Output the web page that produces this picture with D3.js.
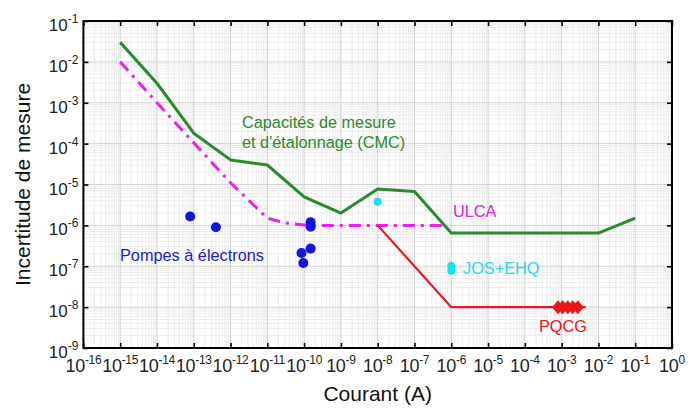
<!DOCTYPE html>
<html>
<head>
<meta charset="utf-8">
<script src="https://cdn.jsdelivr.net/npm/d3@7"></script>
<style>
  body { margin: 0; background: #fff; }
  svg { display: block; font-family: "Liberation Sans", Arial, sans-serif; }
</style>
</head>
<body>
<div id="chart"></div>
<script>
// CMC (capacités de mesure et d'étalonnage)
const cmcCurrent = [1e-15, 1e-14, 1e-13, 1e-12, 1e-11, 1e-10, 1e-9, 1e-8, 1e-7, 1e-6, 1e-2, 1e-1];
const cmcUncert = [3e-2, 3e-3, 1.8e-4, 4e-5, 3e-5, 5e-6, 2e-6, 7.8e-6, 6.7e-6, 6.5e-7, 6.5e-7, 1.5e-6];

// ULCA
const ulcaCurrent = [1e-15, 1e-14, 1e-12, 1e-11, 3e-11, 1.2e-10, 6e-7];
const ulcaUncert = [1e-2, 1e-3, 1.1e-5, 1.5e-6, 1.15e-6, 1e-6, 1e-6];

// PQCG
const pqcgCurrent = [1e-8, 1e-6, 4.5e-3];
const pqcgUncert = [1e-6, 1e-8, 1e-8];
const pqcgMarkCurrent = [8e-4, 1.07e-3, 1.47e-3, 2e-3, 2.75e-3];
const pqcgMarkUncert = [1e-8, 1e-8, 1e-8, 1e-8, 1e-8];

// pompes à électrons
const pompesCurrent = [8e-14, 4e-13, 1.5e-10, 1.5e-10, 1.5e-10, 8.5e-11, 9.5e-11];
const pompesUncert = [1.65e-6, 9e-7, 1.2e-6, 9.3e-7, 2.7e-7, 2.1e-7, 1.2e-7];

// JOS+EHQ
const josCurrent = [1e-8, 1e-6, 1e-6];
const josUncert = [3.8e-6, 1.02e-7, 7.8e-8];

const xExp = d3.range(-16, 1);   // 10^-16 .. 10^0
const yExp = d3.range(-9, 0);    // 10^-9 .. 10^-1

const width = 699, height = 408;
const margin = { top: 21, right: 27, bottom: 60, left: 83.4 };

const svg = d3.select("#chart").append("svg")
  .attr("width", width)
  .attr("height", height);

const x = d3.scaleLog().domain([1e-16, 1]).range([margin.left, width - margin.right]);
const y = d3.scaleLog().domain([1e-9, 1e-1]).range([height - margin.bottom, margin.top]);

const [x0, x1] = x.range();
const [y0, y1] = y.range();

// grid, minor first then major
const minorX = [], minorY = [];
xExp.slice(0, -1).forEach((e) => d3.range(2, 10).forEach((k) => minorX.push(k * Math.pow(10, e))));
yExp.slice(0, -1).forEach((e) => d3.range(2, 10).forEach((k) => minorY.push(k * Math.pow(10, e))));

const grid = svg.append("g");
grid.selectAll(".mx").data(minorX).enter().append("line")
  .attr("x1", (d) => x(d)).attr("x2", (d) => x(d))
  .attr("y1", y1).attr("y2", y0)
  .attr("stroke", "#ececec").attr("stroke-width", 1);
grid.selectAll(".my").data(minorY).enter().append("line")
  .attr("y1", (d) => y(d)).attr("y2", (d) => y(d))
  .attr("x1", x0).attr("x2", x1)
  .attr("stroke", "#ececec").attr("stroke-width", 1);
grid.selectAll(".Mx").data(xExp).enter().append("line")
  .attr("x1", (d) => x(Math.pow(10, d))).attr("x2", (d) => x(Math.pow(10, d)))
  .attr("y1", y1).attr("y2", y0)
  .attr("stroke", "#d2d2d2").attr("stroke-width", 1);
grid.selectAll(".My").data(yExp).enter().append("line")
  .attr("y1", (d) => y(Math.pow(10, d))).attr("y2", (d) => y(Math.pow(10, d)))
  .attr("x1", x0).attr("x2", x1)
  .attr("stroke", "#d2d2d2").attr("stroke-width", 1);

// axes with inward ticks
const xTicks = xExp.map((e) => Math.pow(10, e));
const yTicks = yExp.map((e) => Math.pow(10, e));

const styleAxis = (g) => {
  g.select(".domain").remove();
  g.selectAll(".tick line").attr("stroke", "#000").attr("stroke-width", 1.6);
};

svg.append("g").attr("transform", `translate(0,${y0})`)
  .call(d3.axisBottom(x).tickValues(xTicks).tickSize(-5).tickFormat(() => ""))
  .call(styleAxis);
svg.append("g").attr("transform", `translate(0,${y1})`)
  .call(d3.axisTop(x).tickValues(xTicks).tickSize(-5).tickFormat(() => ""))
  .call(styleAxis);
svg.append("g").attr("transform", `translate(${x0},0)`)
  .call(d3.axisLeft(y).tickValues(yTicks).tickSize(-5).tickFormat(() => ""))
  .call(styleAxis);
svg.append("g").attr("transform", `translate(${x1},0)`)
  .call(d3.axisRight(y).tickValues(yTicks).tickSize(-5).tickFormat(() => ""))
  .call(styleAxis);

svg.append("rect")
  .attr("x", x0).attr("y", y1)
  .attr("width", x1 - x0).attr("height", y0 - y1)
  .attr("fill", "none").attr("stroke", "#000").attr("stroke-width", 2);

// tick labels 10^n
const powLabel = (sel) => {
  sel.append("tspan").text("10");
  sel.append("tspan").attr("dy", -8).attr("font-size", 12).text((d) => d);
};

svg.append("g").selectAll("text").data(xExp).enter().append("text")
  .attr("x", (d) => x(Math.pow(10, d)))
  .attr("y", y0 + 24)
  .attr("text-anchor", "middle")
  .attr("font-size", 18)
  .attr("letter-spacing", -0.3)
  .attr("fill", "#222")
  .call(powLabel);

svg.append("g").selectAll("text").data(yExp).enter().append("text")
  .attr("x", x0 - 5)
  .attr("y", (d) => y(Math.pow(10, d)) + 10)
  .attr("text-anchor", "end")
  .attr("font-size", 17)
  .attr("fill", "#222")
  .call(powLabel);

// axis titles
svg.append("text")
  .attr("x", (x0 + x1) / 2).attr("y", 401)
  .attr("text-anchor", "middle")
  .attr("font-size", 21)
  .attr("fill", "#111")
  .text("Courant (A)");

svg.append("text")
  .attr("transform", `translate(30,${(y0 + y1) / 2}) rotate(-90)`)
  .attr("text-anchor", "middle")
  .attr("font-size", 21)
  .attr("fill", "#111")
  .text("Incertitude de mesure");

// series
const line = d3.line().x((d) => x(d[0])).y((d) => y(d[1]));
const plot = svg.append("g");

plot.append("path")
  .attr("d", line(d3.zip(cmcCurrent, cmcUncert)))
  .attr("fill", "none").attr("stroke", "#2b8a2b").attr("stroke-width", 3)
  .attr("stroke-linejoin", "round");

plot.append("path")
  .attr("d", line(d3.zip(ulcaCurrent, ulcaUncert)))
  .attr("fill", "none").attr("stroke", "#ee1fee").attr("stroke-width", 3)
  .attr("stroke-dasharray", "12,6,3,6");

plot.append("path")
  .attr("d", line(d3.zip(pqcgCurrent, pqcgUncert)))
  .attr("fill", "none").attr("stroke", "#e8181c").attr("stroke-width", 2.2);

plot.selectAll(".pq").data(d3.zip(pqcgMarkCurrent, pqcgMarkUncert)).enter().append("path")
  .attr("transform", (d) => `translate(${x(d[0])},${y(d[1])})`)
  .attr("d", "M0,-7L6,0L0,7L-6,0Z")
  .attr("fill", "#e8181c");

plot.selectAll(".pompe").data(d3.zip(pompesCurrent, pompesUncert)).enter().append("circle")
  .attr("cx", (d) => x(d[0])).attr("cy", (d) => y(d[1]))
  .attr("r", 5).attr("fill", "#1414e0");

plot.selectAll(".jos").data(d3.zip(josCurrent, josUncert)).enter().append("circle")
  .attr("cx", (d) => x(d[0])).attr("cy", (d) => y(d[1]))
  .attr("r", 4).attr("fill", "#14e2ee");

// labels
const label = (tx, ty, txt, col) =>
  svg.append("text").attr("x", tx).attr("y", ty)
    .attr("font-size", 16.3).attr("fill", col).text(txt);

label(242, 128, "Capacités de mesure", "#2b8a2b");
label(242, 148, "et d'étalonnage (CMC)", "#2b8a2b");
label(453, 217, "ULCA", "#e020e0");
label(463, 274, "JOS+EHQ", "#22dcea");
label(539, 332, "PQCG", "#e8181c");
label(120, 261, "Pompes à électrons", "#2020d0");
</script>
</body>
</html>
